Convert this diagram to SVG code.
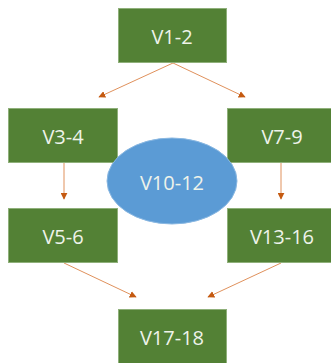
<svg xmlns="http://www.w3.org/2000/svg" width="331" height="363" viewBox="0 0 331 363">
<style>
.box{fill:#538135;stroke:#8fb07a;stroke-width:1}
.lbl{font-family:"Open Sans","Liberation Sans",sans-serif;font-size:20px;fill:#eef3ea;text-anchor:middle;dominant-baseline:central}
.edge{stroke:#e0915c;stroke-width:1;fill:none;marker-end:url(#ah)}
</style>
<defs>
<marker id="ah" viewBox="0 0 10 10" refX="9" refY="5" markerWidth="7" markerHeight="7" markerUnits="userSpaceOnUse" orient="auto">
<path d="M0,0 L10,5 L0,10 z" fill="#c55a11"/>
</marker>
</defs>
<rect width="331" height="363" fill="#ffffff"/>
<g id="connectors">
<line class="edge" x1="173" y1="63" x2="99" y2="97"/>
<line class="edge" x1="173" y1="63" x2="245" y2="97"/>
<line class="edge" x1="64" y1="163" x2="64" y2="199"/>
<line class="edge" x1="281" y1="163" x2="281" y2="199"/>
<line class="edge" x1="64" y1="263" x2="136" y2="297"/>
<line class="edge" x1="281" y1="263" x2="208" y2="297"/>
</g>
<g id="v1-2"><rect class="box" x="118.5" y="8.5" width="108" height="54"/><text class="lbl" x="172" y="36">V1-2</text></g>
<g id="v3-4"><rect class="box" x="8.5" y="108.5" width="109" height="54"/><text class="lbl" x="63" y="136">V3-4</text></g>
<g id="v7-9"><rect class="box" x="227.5" y="108.5" width="109" height="54"/><text class="lbl" x="282" y="136">V7-9</text></g>
<g id="v10-12"><ellipse cx="172" cy="181" rx="65" ry="43" fill="#5b9bd5" stroke="#8ab8e2" stroke-width="1"/><text class="lbl" x="172" y="182">V10-12</text></g>
<g id="v5-6"><rect class="box" x="8.5" y="208.5" width="109" height="54"/><text class="lbl" x="63" y="236">V5-6</text></g>
<g id="v13-16"><rect class="box" x="227.5" y="208.5" width="109" height="54"/><text class="lbl" x="282" y="236">V13-16</text></g>
<g id="v17-18"><rect class="box" x="118.5" y="309.5" width="108" height="54"/><text class="lbl" x="172" y="337">V17-18</text></g>
</svg>
